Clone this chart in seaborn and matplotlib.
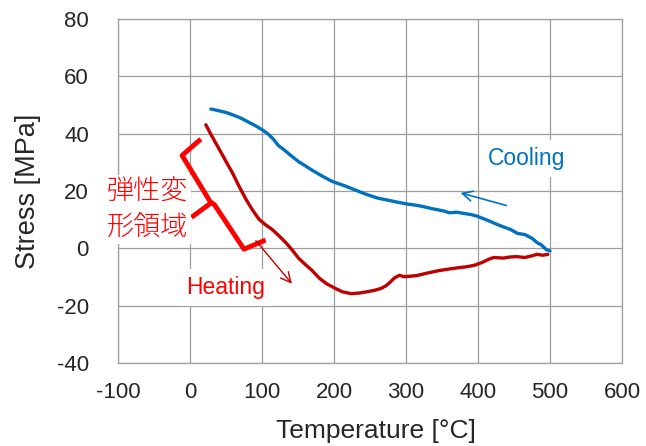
import matplotlib
matplotlib.use('Agg')
import pandas as pd
import matplotlib.pyplot as plt
import seaborn as sns
from matplotlib.ticker import MultipleLocator

# 冷却 (500 -> 30 ℃)
cool_T = [500, 495, 488, 482, 475, 465, 455, 445, 435, 427, 415, 405, 399, 390, 380,
          370, 360, 353, 345, 335, 325, 315, 303, 290, 275, 261, 250, 243, 230, 215,
          197, 185, 170, 160, 151, 140, 130, 123, 115, 108, 100, 90, 80, 70, 59, 50, 40, 29]
cool_S = [-0.9, -0.5, 1.2, 2.0, 3.5, 4.8, 5.2, 6.6, 7.5, 8.3, 9.6, 10.6, 11.2, 11.8, 12.2,
          12.6, 12.4, 13.0, 13.4, 13.9, 14.5, 15.0, 15.4, 16.0, 16.8, 17.5, 18.4, 19.0, 20.3, 21.8,
          23.4, 25.0, 27.2, 28.8, 30.2, 32.4, 34.5, 35.8, 38.3, 40.0, 41.4, 42.9, 44.2, 45.5, 46.6, 47.4, 48.0, 48.6]

# 加熱 (20 -> 500 ℃)
heat_T = [22, 30, 41, 50, 59, 68, 78, 87, 96, 105, 114, 123, 133, 141, 151, 160, 169, 180,
          190, 202, 212, 224, 235, 245, 257, 265, 272, 278, 284, 291, 297, 303, 315, 330,
          345, 360, 375, 385, 395, 405, 415, 422, 435, 445, 454, 465, 475, 482, 490, 497]
heat_S = [43.1, 39.3, 34.4, 30.3, 26.3, 21.7, 17.0, 13.3, 10.1, 8.2, 6.6, 4.5, 2.0, -0.3,
          -3.5, -5.6, -7.6, -10.5, -12.4, -14.0, -15.2, -15.8, -15.6, -15.2, -14.6, -14.0,
          -13.1, -11.8, -10.3, -9.4, -9.9, -9.8, -9.5, -8.6, -7.8, -7.2, -6.7, -6.4, -5.9,
          -5.0, -3.8, -3.2, -3.4, -3.0, -2.9, -3.2, -2.6, -2.1, -2.4, -2.1]

x_ticks = [-100, 0, 100, 200, 300, 400, 500, 600]
y_ticks = [-40, -20, 0, 20, 40, 60, 80]

# 括弧 (弾性変形領域)
brace_T = [15, -11, 28, 34, 75, 105]
brace_S = [38.1, 32.4, 16.3, 15.2, -0.3, 2.9]
nub_T = [30, 2]
nub_S = [16.0, 10.8]

#%%
sns.set_style('white')
plt.rcParams['font.family'] = ['Liberation Sans', 'Noto Sans CJK JP', 'DejaVu Sans']
plt.rcParams['axes.unicode_minus'] = False

fig = plt.figure(figsize=(6.46, 4.46), dpi=100)
ax = fig.add_axes([118 / 646, 1 - 363 / 446, 504 / 646, 344 / 446])

df_cool = pd.DataFrame({'T': cool_T, 'S': cool_S})
df_heat = pd.DataFrame({'T': heat_T, 'S': heat_S})
sns.lineplot(data=df_cool, x='T', y='S', sort=False, color='#0070c0', lw=2.4, ax=ax)
sns.lineplot(data=df_heat, x='T', y='S', sort=False, color='#c00000', lw=2.4, ax=ax)

ax.set_xlim(-100, 600)
ax.set_ylim(-40, 80)
ax.set_xticks(x_ticks)
ax.set_yticks(y_ticks)
ax.yaxis.set_minor_locator(MultipleLocator(10))
ax.grid(True, which='major', color='#9e9e9e', lw=0.9)
ax.set_axisbelow(True)
for s in ax.spines.values():
    s.set_color('#9e9e9e')
    s.set_linewidth(0.9)
ax.tick_params(axis='both', which='major', length=0, labelsize=16, labelcolor='#262626')
ax.tick_params(axis='y', which='major', pad=21)
ax.tick_params(axis='x', which='major', pad=14)
ax.tick_params(axis='y', which='minor', direction='in', length=5, width=0.9, color='#9e9e9e')

ax.set_xlabel('Temperature [°C]', fontsize=19, color='#262626')
ax.set_ylabel('Stress [MPa]', fontsize=19.5, color='#262626')
ax.xaxis.set_label_coords(0.512, -0.162)
ax.yaxis.set_label_coords(-0.153, 0.5)

# 注釈
box = dict(boxstyle='square,pad=0.3', fc='white', ec='none')
ax.text(467, 31.3, 'Cooling', color='#0070c0', fontsize=16.5, ha='center', va='center', bbox=box)
ax.text(50, -13.6, 'Heating', color='#ff0000', fontsize=16.5, ha='center', va='center', bbox=box)
ax.text(-59, 13.6, '弾性変\n形領域', color='#ff0000', fontsize=19.5, ha='center', va='center',
        linespacing=1.35, family=['Noto Sans CJK JP', 'DejaVu Sans'], weight='light',
        bbox=dict(boxstyle='square,pad=0.1', fc='white', ec='none'))

ax.annotate('', xy=(372, 19.6), xytext=(443, 14.7),
            arrowprops=dict(arrowstyle='->', color='#0070c0', lw=1.2, mutation_scale=18))
ax.annotate('', xy=(144, -13.1), xytext=(89, 3.4),
            arrowprops=dict(arrowstyle='->', color='#c00000', lw=1.0, mutation_scale=18))

ax.plot(brace_T, brace_S, color='#ff0000', lw=3.5, solid_capstyle='butt')
ax.plot(nub_T, nub_S, color='#ff0000', lw=3.5, solid_capstyle='butt')

plt.savefig('out.png', dpi=100)
